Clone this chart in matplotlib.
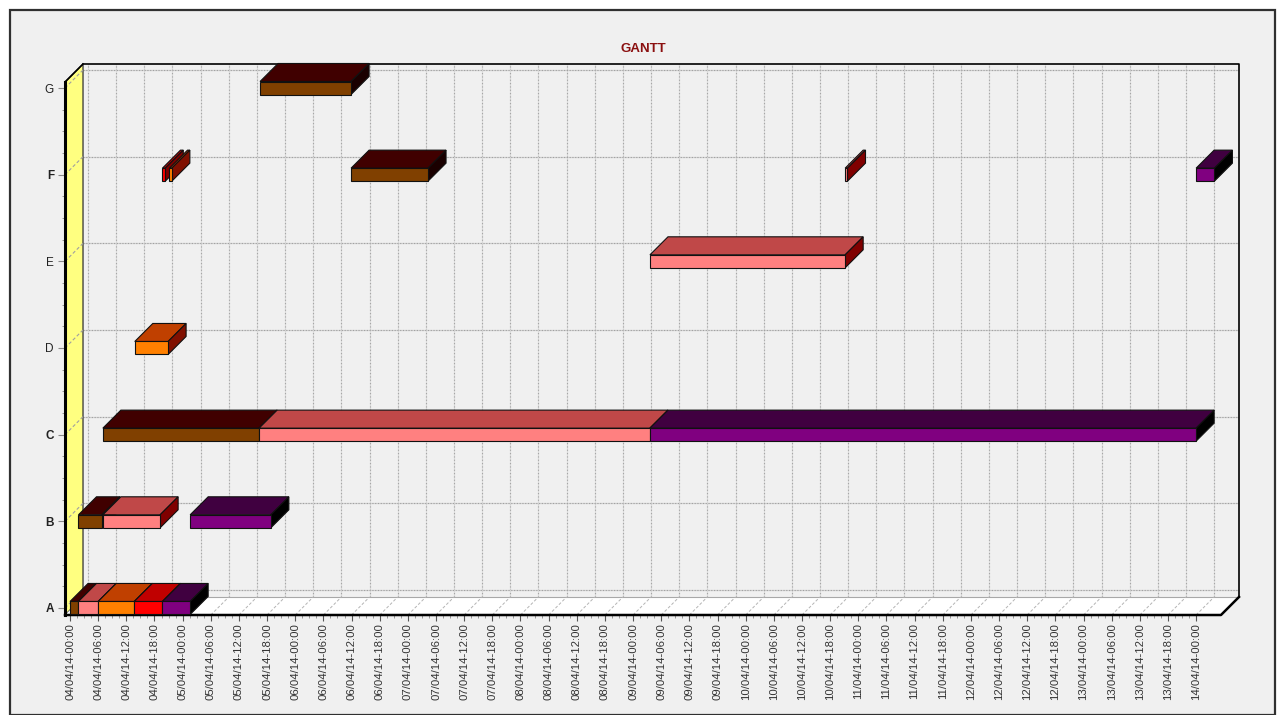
import datetime as dt
import numpy as np
import matplotlib.pyplot as plt
from matplotlib.patches import Polygon, Rectangle

plt.rcParams['font.family'] = ['Liberation Sans', 'DejaVu Sans']

# rows of the gantt, bottom to top
rows = ['A', 'B', 'C', 'D', 'E', 'F', 'G']
bold_rows = ['A', 'B', 'C', 'F']

# tasks: row, start hour, end hour, colour series (hours from 04/04/14 00:00)
task_row = ['A', 'A', 'A', 'A', 'A',
            'B', 'B', 'B',
            'C', 'C', 'C',
            'D',
            'E',
            'F', 'F', 'F', 'F', 'F',
            'G']
task_start = [0.0, 1.8, 6.0, 13.7, 19.7,
              1.8, 7.0, 25.6,
              7.0, 40.3, 123.6,
              13.8,
              123.6,
              19.7, 21.2, 59.9, 165.2, 240.0,
              40.5]
task_end = [1.8, 6.0, 13.7, 19.7, 25.6,
            6.8, 19.2, 42.8,
            40.3, 123.6, 240.0,
            20.9,
            165.2,
            20.3, 21.7, 76.3, 165.7, 243.9,
            59.9]
task_series = ['brown', 'pink', 'orange', 'red', 'purple',
               'brown', 'pink', 'purple',
               'brown', 'pink', 'purple',
               'orange',
               'pink',
               'red', 'orange', 'brown', 'pink', 'purple',
               'brown']

# front, top, side colours of each series
series_colors = {
    'brown': ('#804000', '#400000', '#1a0000'),
    'pink': ('#ff8080', '#c04848', '#800000'),
    'orange': ('#ff8000', '#c04000', '#801000'),
    'red': ('#ff0000', '#c00000', '#800000'),
    'purple': ('#800080', '#400040', '#000000'),
}

base = dt.datetime(2014, 4, 4)
tick_hours = list(range(0, 241, 6))
tick_labels = [(base + dt.timedelta(hours=h)).strftime('%d/%m/%y-%H:%M') for h in tick_hours]

# layout of the fake 3d box (data units: hours / rows)
X0, X1 = -1.07, 245.3
Y0, Y1 = -0.081, 6.069
DX, DY = 3.84, 0.208
BH = 0.15

fig = plt.figure(figsize=(12.83, 7.15), dpi=100, facecolor='white')
fig.patches.append(Rectangle((10 / 1283, 0), 1265 / 1283, 705 / 715, transform=fig.transFigure,
                             facecolor='#f0f0f0', edgecolor='#303030', linewidth=1.6, zorder=-10))
ax = fig.add_axes([65 / 1283, 1 - 615 / 715, 1174 / 1283, 551 / 715])
ax.set_facecolor('none')
ax.set_xlim(X0, X1 + DX)
ax.set_ylim(Y0, Y1 + DY)
for s in ax.spines.values():
    s.set_visible(False)

ypos = {r: i for i, r in enumerate(rows)}

# back wall grid
for h in tick_hours:
    ax.plot([h + DX, h + DX], [Y0 + DY, Y1 + DY], color='#dadada', lw=0.8, zorder=1)
    ax.plot([h + DX, h + DX], [Y0 + DY, Y1 + DY], color='#a4a4a4', lw=0.8, ls=(0, (1, 2)), zorder=1)
for i in range(len(rows)):
    ax.plot([X0 + DX, X1 + DX], [i + DY, i + DY], color='#d2d2d2', lw=0.9, zorder=1)
    ax.plot([X0 + DX, X1 + DX], [i + DY, i + DY], color='#a0a0a0', lw=0.8, ls=(0, (1, 1.5)), zorder=1)

# back wall border
ax.plot([X0 + DX, X1 + DX, X1 + DX], [Y1 + DY, Y1 + DY, Y0 + DY], color='black', lw=1.2,
        zorder=2, clip_on=False)

# left wall
ax.add_patch(Polygon([(X0, Y0), (X0, Y1), (X0 + DX, Y1 + DY), (X0 + DX, Y0 + DY)],
                     closed=True, facecolor='#ffff80', edgecolor='#303030', lw=0.9, zorder=3))
for i in range(len(rows)):
    ax.plot([X0, X0 + DX], [i, i + DY], color='#a0a0a0', lw=0.8, ls=(0, (3, 2)), zorder=3)

# floor
ax.add_patch(Polygon([(X0, Y0), (X1, Y0), (X1 + DX, Y0 + DY), (X0 + DX, Y0 + DY)],
                     closed=True, facecolor='white', edgecolor='none', zorder=3))
ax.plot([X0 + DX, X1 + DX], [Y0 + DY, Y0 + DY], color='#a8a8a8', lw=0.8, zorder=3)
for h in tick_hours:
    ax.plot([h, h + DX], [Y0, Y0 + DY], color='#b4b4b4', lw=0.7, ls=(0, (3, 2)), zorder=3)
ax.plot([X0, X1, X1 + DX], [Y0, Y0, Y0 + DY], color='black', lw=1.8, zorder=6, clip_on=False)
ax.plot([X0, X0, X0 + DX], [Y0, Y1, Y1 + DY], color='black', lw=1.2, zorder=6, clip_on=False)
ax.plot([X0, X0], [Y0, Y1], color='black', lw=2.2, zorder=6, clip_on=False)

# bars, top rows first, left to right
order = sorted(range(len(task_row)), key=lambda k: (-ypos[task_row[k]], task_start[k]))
z = 10
for k in order:
    y = ypos[task_row[k]]
    s, e = task_start[k], task_end[k]
    front, top, side = series_colors[task_series[k]]
    lo, hi = y - BH / 2, y + BH / 2
    ax.add_patch(Polygon([(s, hi), (e, hi), (e + DX, hi + DY), (s + DX, hi + DY)], closed=True,
                         facecolor=top, edgecolor='#111111', lw=0.8, zorder=z, clip_on=False))
    ax.add_patch(Polygon([(e, lo), (e, hi), (e + DX, hi + DY), (e + DX, lo + DY)], closed=True,
                         facecolor=side, edgecolor='#111111', lw=0.8, zorder=z, clip_on=False))
    ax.add_patch(Rectangle((s, lo), e - s, BH, facecolor=front, edgecolor='#111111', lw=0.8,
                           zorder=z + 0.5, clip_on=False))
    z += 1

# ticks
ax.set_xticks(tick_hours)
ax.set_xticklabels(tick_labels, rotation=90, fontsize=8.2, color='#333333')
ax.set_xticks(np.arange(0, 241, 1.5), minor=True)
ax.tick_params(axis='x', which='major', length=4, width=0.8, color='#555555', pad=2)
ax.tick_params(axis='x', which='minor', length=2, width=0.6, color='#888888')
ax.set_yticks(range(len(rows)))
ax.set_yticklabels(rows, fontsize=8.5, color='#222222')
for lab in ax.get_yticklabels():
    if lab.get_text() in bold_rows:
        lab.set_fontweight('bold')
ax.set_yticks(np.arange(0, 6.01, 0.25), minor=True)
ax.tick_params(axis='y', which='major', length=5, width=0.8, color='#8a8a8a', pad=3)
ax.tick_params(axis='y', which='minor', length=2, width=0.6, color='#888888')

fig.text(643 / 1283, 1 - 49 / 715, 'GANTT', ha='center', va='center', fontsize=9.5,
         fontweight='bold', color='#8b1010')

fig.savefig('out.png', dpi=100, facecolor='white')
